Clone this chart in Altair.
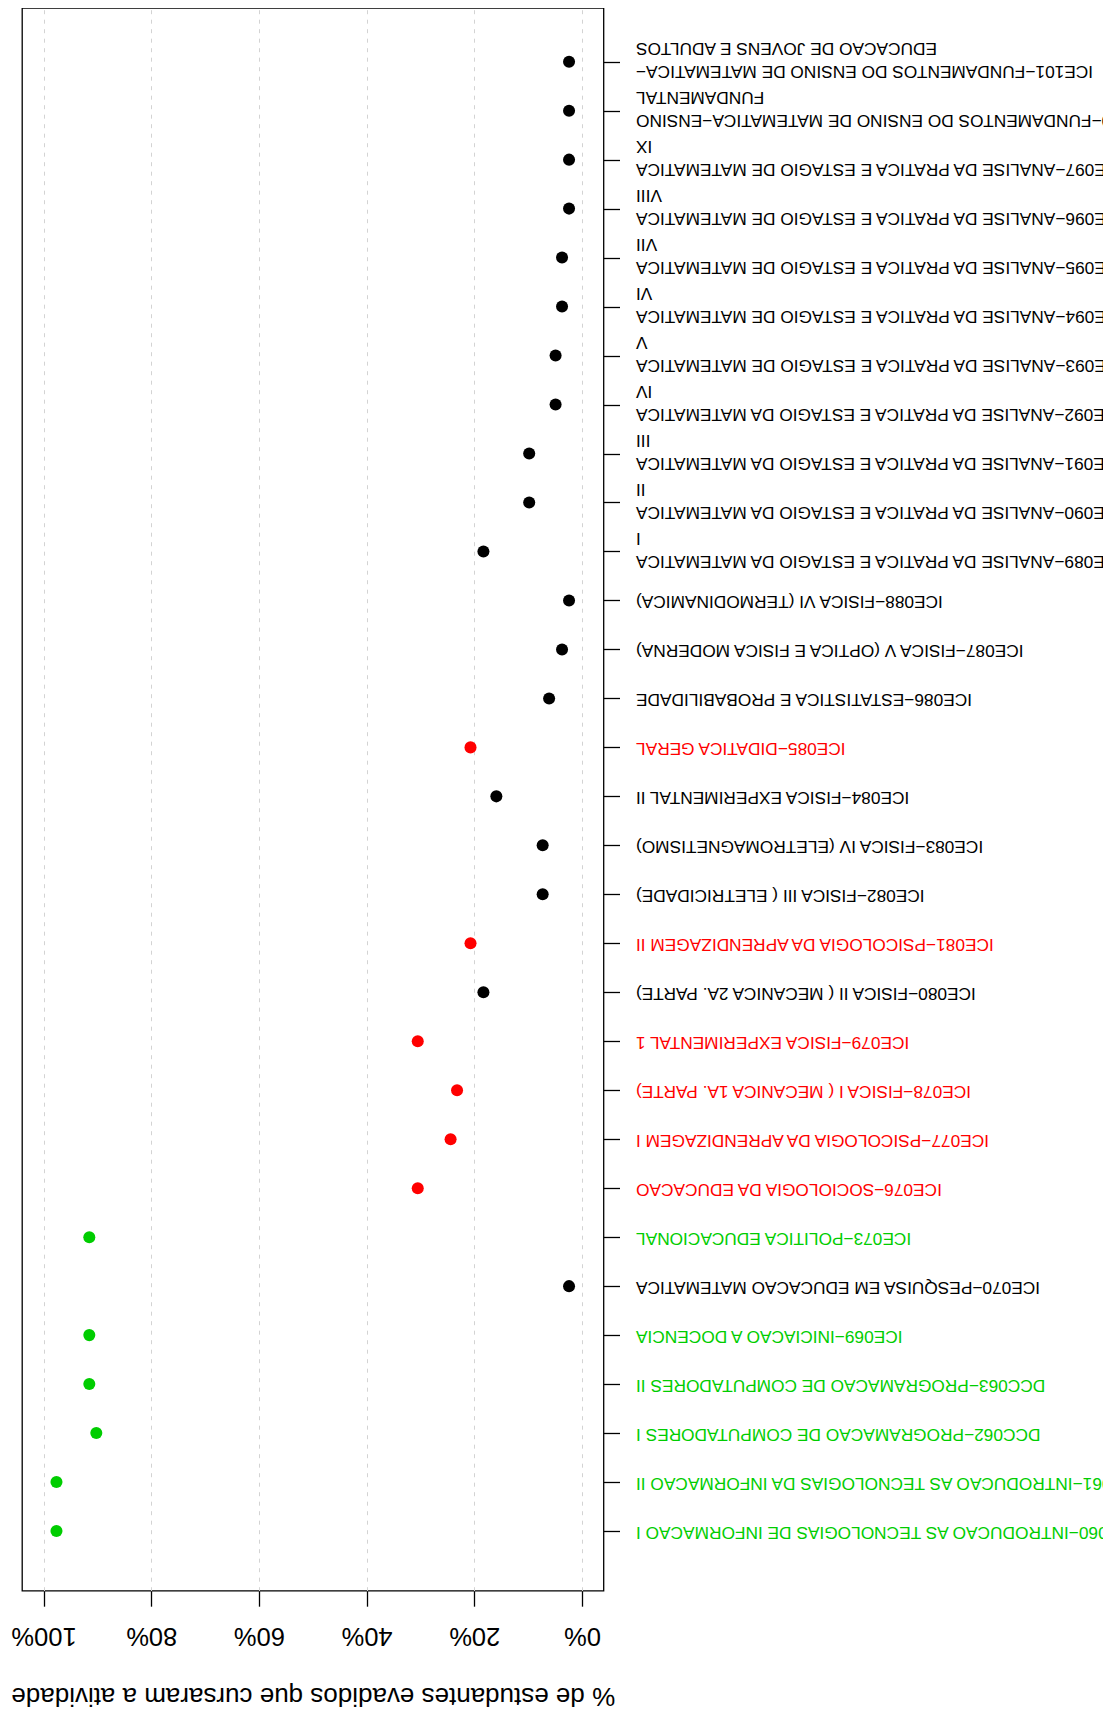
import json
import altair as alt
import pandas as pd

cursos = [
    "ICE101−FUNDAMENTOS DO ENSINO DE MATEMATICA−\nEDUCACAO DE JOVENS E ADULTOS",
    "ICE100−FUNDAMENTOS DO ENSINO DE MATEMATICA−ENSINO\nFUNDAMENTAL",
    "ICE097−ANALISE DA PRATICA E ESTAGIO DE MATEMATICA\nIX",
    "ICE096−ANALISE DA PRATICA E ESTAGIO DE MATEMATICA\nVIII",
    "ICE095−ANALISE DA PRATICA E ESTAGIO DE MATEMATICA\nVII",
    "ICE094−ANALISE DA PRATICA E ESTAGIO DE MATEMATICA\nVI",
    "ICE093−ANALISE DA PRATICA E ESTAGIO DE MATEMATICA\nV",
    "ICE092−ANALISE DA PRATICA E ESTAGIO DA MATEMATICA\nIV",
    "ICE091−ANALISE DA PRATICA E ESTAGIO DA MATEMATICA\nIII",
    "ICE090−ANALISE DA PRATICA E ESTAGIO DA MATEMATICA\nII",
    "ICE089−ANALISE DA PRATICA E ESTAGIO DA MATEMATICA\nI",
    "ICE088−FISICA VI (TERMODINAMICA)",
    "ICE087−FISICA V (OPTICA E FISICA MODERNA)",
    "ICE086−ESTATISTICA E PROBABILIDADE",
    "ICE085−DIDATICA GERAL",
    "ICE084−FISICA EXPERIMENTAL II",
    "ICE083−FISICA IV (ELETROMAGNETISMO)",
    "ICE082−FISICA III ( ELETRICIDADE)",
    "ICE081−PSICOLOGIA DA APRENDIZAGEM II",
    "ICE080−FISICA II ( MECANICA 2A. PARTE)",
    "ICE079−FISICA EXPERIMENTAL 1",
    "ICE078−FISICA I ( MECANICA 1A. PARTE)",
    "ICE077−PSICOLOGIA DA APRENDIZAGEM I",
    "ICE076−SOCIOLOGIA DA EDUCACAO",
    "ICE073−POLITICA EDUCACIONAL",
    "ICE070−PESQUISA EM EDUCACAO MATEMATICA",
    "ICE069−INICIACAO A DOCENCIA",
    "DCC063−PROGRAMACAO DE COMPUTADORES II",
    "DCC062−PROGRAMACAO DE COMPUTADORES I",
    "DCC061−INTRODUCAO AS TECNOLOGIAS DA INFORMACAO II",
    "DCC060−INTRODUCAO AS TECNOLOGIAS DE INFORMACAO I",
]

percentuais = [
    2.4, 2.4, 2.4, 2.4, 3.7, 3.7, 4.9, 4.9, 9.8, 9.8, 18.3,
    2.4, 3.7, 6.1, 20.7, 15.9, 7.3, 7.3, 20.7, 18.3, 30.5,
    23.2, 24.4, 30.5, 91.5, 2.4, 91.5, 91.5, 90.2, 97.6, 97.6,
]

grupos = [
    "preto", "preto", "preto", "preto", "preto", "preto", "preto", "preto", "preto", "preto", "preto",
    "preto", "preto", "preto", "vermelho", "preto", "preto", "preto", "vermelho", "preto", "vermelho",
    "vermelho", "vermelho", "vermelho", "verde", "preto", "verde", "verde", "verde", "verde", "verde",
]

ticks_x = [0, 20, 40, 60, 80, 100]
titulo_x = "% de estudantes evadidos que cursaram a atividade"

cores_dominio = ["preto", "vermelho", "verde"]
cores = ["#000000", "#FF0000", "#00CD00"]

posicoes = list(range(len(cursos)))
df = pd.DataFrame({"pos": posicoes, "curso": cursos, "pct": percentuais, "grupo": grupos})

idx_vermelhos = [i for i, g in enumerate(grupos) if g == "vermelho"]
idx_verdes = [i for i, g in enumerate(grupos) if g == "verde"]
idx_duas_linhas = [i for i, c in enumerate(cursos) if "\n" in c]

FONT = "Liberation Sans"

label_color = {
    "condition": [
        {"test": f"indexof({json.dumps(idx_vermelhos)}, datum.value) >= 0", "value": "#FF0000"},
        {"test": f"indexof({json.dumps(idx_verdes)}, datum.value) >= 0", "value": "#00CD00"},
    ],
    "value": "#000000",
}

label_offset = {
    "condition": {"test": f"indexof({json.dumps(idx_duas_linhas)}, datum.value) >= 0", "value": 9},
    "value": 0,
}

label_expr = f"split({json.dumps(cursos, ensure_ascii=False)}[datum.value], '\\n')"

W = 581.5
H = 1582.7

chart = alt.Chart(df).mark_circle(size=145, opacity=1).encode(
    x=alt.X(
        "pct:Q",
        scale=alt.Scale(domain=[-4, 104], reverse=True, nice=False, zero=False),
        axis=alt.Axis(
            values=ticks_x,
            labelExpr="datum.value + '%'",
            grid=True,
            gridColor="#D3D3D3",
            gridDash=[4, 5.5],
            gridWidth=1,
            domain=False,
            ticks=True,
            tickSize=15.5,
            tickColor="#000000",
            tickWidth=1.3,
            labelAngle=180,
            labelAlign="center",
            labelBaseline="middle",
            labelPadding=29,
            labelFontSize=25.5,
            labelFont=FONT,
            labelColor="#000000",
            labelFlush=False,
            labelOverlap=False,
            title=titulo_x,
            titleAngle=180,
            titleFontSize=26,
            titleFont=FONT,
            titleFontWeight="normal",
            titleColor="#000000",
            titleAlign="center",
            titleBaseline="middle",
            titleX=W / 2,
            titleY=104.5,
        ),
    ),
    y=alt.Y(
        "pos:Q",
        scale=alt.Scale(domain=[-1.096, 31.218], reverse=True, nice=False, zero=False),
        axis=alt.Axis(
            orient="right",
            values=posicoes,
            domain=False,
            grid=False,
            ticks=True,
            tickSize=16,
            tickColor="#000000",
            tickWidth=1.3,
            labelExpr=label_expr,
            labelAngle=180,
            labelAlign="right",
            labelBaseline="middle",
            labelPadding=16,
            labelFontSize=17.3,
            labelFont=FONT,
            labelLineHeight=23,
            labelLimit=2000,
            labelOverlap=False,
            labelFlush=False,
            labelColor=label_color,
            labelOffset=label_offset,
            title=None,
        ),
    ),
    color=alt.Color(
        "grupo:N",
        scale=alt.Scale(domain=cores_dominio, range=cores),
        legend=None,
    ),
).properties(
    width=W,
    height=H,
    autosize=alt.AutoSizeParams(type="none"),
    padding={"left": 14, "top": 0, "right": 499.5, "bottom": 121},
).configure_view(
    stroke="#000000",
    strokeWidth=1.3,
    fill="white",
)

chart.save("out.html", embed_options={"renderer": "svg", "actions": False})
